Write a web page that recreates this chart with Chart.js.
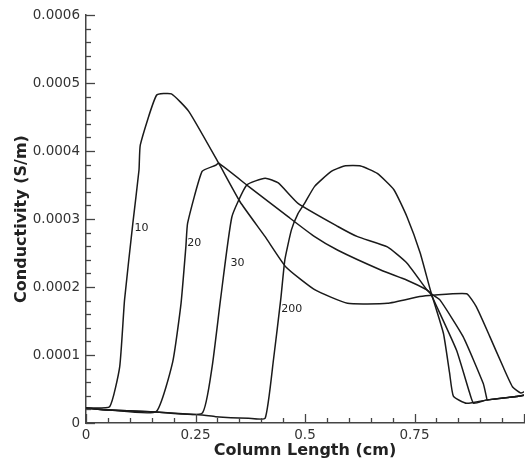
<!DOCTYPE html>
<html>
<head>
<meta charset="utf-8">
<script src="https://cdn.jsdelivr.net/npm/chart.js@4.4.0/dist/chart.umd.min.js"></script>
<style>
  html, body { margin: 0; padding: 0; background: #fff; overflow: hidden; }
  #wrap { width: 528px; height: 464px; }
</style>
</head>
<body>
<div id="wrap"><canvas id="chart"></canvas></div>
<script>
// curve names as printed next to each rising front
const seriesNames = ["10", "20", "30", "200"];

// column length (cm) / conductivity (S/m)
const x10 = [0, 0.054, 0.077, 0.088, 0.107, 0.121, 0.124, 0.161, 0.195, 0.235, 0.303, 0.352, 0.409, 0.457, 0.522, 0.597, 0.688, 0.762, 0.793, 0.869, 0.891, 0.922, 0.952, 0.974, 0.993, 1.0];
const y10 = [0.000022, 0.000024, 0.000083, 0.000181, 0.000294, 0.000372, 0.000409, 0.000482, 0.000484, 0.000458, 0.000382, 0.000325, 0.000274, 0.000229, 0.000196, 0.000176, 0.000176, 0.000186, 0.000188, 0.000190, 0.000171, 0.000127, 0.000083, 0.000053, 0.000044, 0.000046];

const x20 = [0, 0.054, 0.160, 0.198, 0.217, 0.228, 0.232, 0.265, 0.296, 0.303, 0.371, 0.462, 0.522, 0.575, 0.673, 0.733, 0.778, 0.786, 0.808, 0.861, 0.907, 0.914, 0.916, 0.982, 1.0];
const y20 = [0.000022, 0.000019, 0.0000166, 0.000090, 0.000176, 0.000259, 0.000294, 0.000370, 0.000379, 0.000382, 0.000348, 0.000303, 0.000274, 0.000254, 0.000225, 0.000210, 0.000196, 0.000191, 0.000181, 0.000127, 0.000058, 0.000039, 0.000034, 0.000039, 0.000041];

const x30 = [0, 0.054, 0.160, 0.265, 0.288, 0.307, 0.333, 0.367, 0.409, 0.439, 0.484, 0.575, 0.620, 0.688, 0.733, 0.778, 0.786, 0.801, 0.846, 0.876, 0.885, 0.916, 0.982, 1.0];
const y30 = [0.000022, 0.000019, 0.0000162, 0.0000143, 0.000083, 0.000181, 0.000303, 0.000350, 0.000360, 0.000353, 0.000323, 0.000289, 0.000274, 0.000259, 0.000235, 0.000196, 0.000191, 0.000171, 0.000107, 0.000044, 0.000029, 0.000034, 0.000039, 0.000041];

const x200 = [0, 0.054, 0.160, 0.265, 0.296, 0.371, 0.409, 0.428, 0.445, 0.454, 0.469, 0.484, 0.499, 0.522, 0.560, 0.590, 0.627, 0.665, 0.703, 0.733, 0.763, 0.786, 0.816, 0.830, 0.839, 0.869, 0.916, 0.982, 1.0];
const y200 = [0.000022, 0.000019, 0.0000162, 0.0000118, 0.0000093, 0.0000069, 0.0000069, 0.000093, 0.000184, 0.000240, 0.000284, 0.000308, 0.000323, 0.000348, 0.000370, 0.000378, 0.000378, 0.000367, 0.000343, 0.000303, 0.000250, 0.000196, 0.000132, 0.000074, 0.000039, 0.000029, 0.000034, 0.000039, 0.000041];

// where each curve name sits (data coords, left edge of text)
const labelX = [0.111, 0.231, 0.330, 0.446];
const labelY = [0.000287, 0.000265, 0.000235, 0.000168];

const xTickLabels = ["0", "0.25", "0.5", "0.75"];
const yTickLabels = ["0", "0.0001", "0.0002", "0.0003", "0.0004", "0.0005", "0.0006"];

const X_STEP = 0.05, Y_STEP = 0.00002; // minor tick spacing, 5 minors per major

const allX = [x10, x20, x30, x200];
const allY = [y10, y20, y30, y200];

const datasets = seriesNames.map((name, i) => ({
  label: name,
  data: allX[i].map((x, j) => ({ x: x, y: allY[i][j] })),
  borderColor: "#1a1a1a",
  borderWidth: 1.5,
  pointRadius: 0,
  tension: 0.15,
  fill: false,
}));

// ticks point into the plot, and the curve names
const inwardTicks = {
  id: "inwardTicks",
  afterDatasetsDraw(chart) {
    const ctx = chart.ctx;
    const { left, bottom } = chart.chartArea;
    const xs = chart.scales.x, ys = chart.scales.y;
    ctx.save();
    ctx.strokeStyle = "#444";
    ctx.lineWidth = 1.3;
    ys.ticks.forEach(t => {
      const k = Math.round(t.value / Y_STEP);
      const py = Math.round(ys.getPixelForValue(t.value)) + 0.5;
      ctx.beginPath();
      ctx.moveTo(left, py);
      ctx.lineTo(left + (k % 5 === 0 ? 9 : 5), py);
      ctx.stroke();
    });
    xs.ticks.forEach(t => {
      const k = Math.round(t.value / X_STEP);
      const px = Math.round(xs.getPixelForValue(t.value)) + 0.5;
      ctx.beginPath();
      ctx.moveTo(px, bottom);
      ctx.lineTo(px, bottom - (k % 5 === 0 ? 9 : 5));
      ctx.stroke();
    });

    ctx.fillStyle = "#222";
    ctx.font = "11px 'DejaVu Sans'";
    ctx.textAlign = "left";
    ctx.textBaseline = "middle";
    seriesNames.forEach((name, i) => {
      ctx.fillText(name, xs.getPixelForValue(labelX[i]), ys.getPixelForValue(labelY[i]));
    });
    ctx.restore();
  }
};

const tickFont = { family: "'DejaVu Sans'", size: 13.5 };
const titleFont = { family: "'DejaVu Sans'", size: 16, weight: "bold" };

new Chart(document.getElementById("chart"), {
  type: "line",
  data: { datasets: datasets },
  options: {
    responsive: true,
    maintainAspectRatio: false,
    animation: false,
    layout: { padding: { top: 15, right: 0, bottom: 0, left: 0 } },
    plugins: {
      legend: { display: false },
      tooltip: { enabled: false },
    },
    scales: {
      x: {
        type: "linear",
        min: 0,
        max: 1,
        afterFit: (scale) => { scale.height = 41; },
        grid: { display: false, drawTicks: false },
        border: { display: true, color: "#444", width: 1.5 },
        ticks: {
          stepSize: X_STEP,
          autoSkip: false,
          maxRotation: 0,
          padding: 4,
          color: "#333",
          font: tickFont,
          callback: (v) => {
            const k = Math.round(v / X_STEP);
            return k % 5 === 0 && xTickLabels[k / 5] !== undefined ? xTickLabels[k / 5] : "";
          },
        },
        title: {
          display: true,
          text: "Column Length (cm)",
          color: "#222",
          font: titleFont,
          padding: { top: 0, bottom: 4 },
        },
      },
      y: {
        type: "linear",
        min: 0,
        max: 0.0006,
        afterFit: (scale) => { scale.width = 86; },
        grid: { display: false, drawTicks: false },
        border: { display: true, color: "#444", width: 1.5 },
        ticks: {
          stepSize: Y_STEP,
          autoSkip: false,
          padding: 6,
          color: "#333",
          font: tickFont,
          callback: (v) => {
            const k = Math.round(v / Y_STEP);
            return k % 5 === 0 && yTickLabels[k / 5] !== undefined ? yTickLabels[k / 5] : "";
          },
        },
        title: {
          display: true,
          text: "Conductivity (S/m)",
          color: "#222",
          font: titleFont,
          padding: { top: 12, bottom: 0 },
        },
      },
    },
  },
  plugins: [inwardTicks],
});
</script>
</body>
</html>
